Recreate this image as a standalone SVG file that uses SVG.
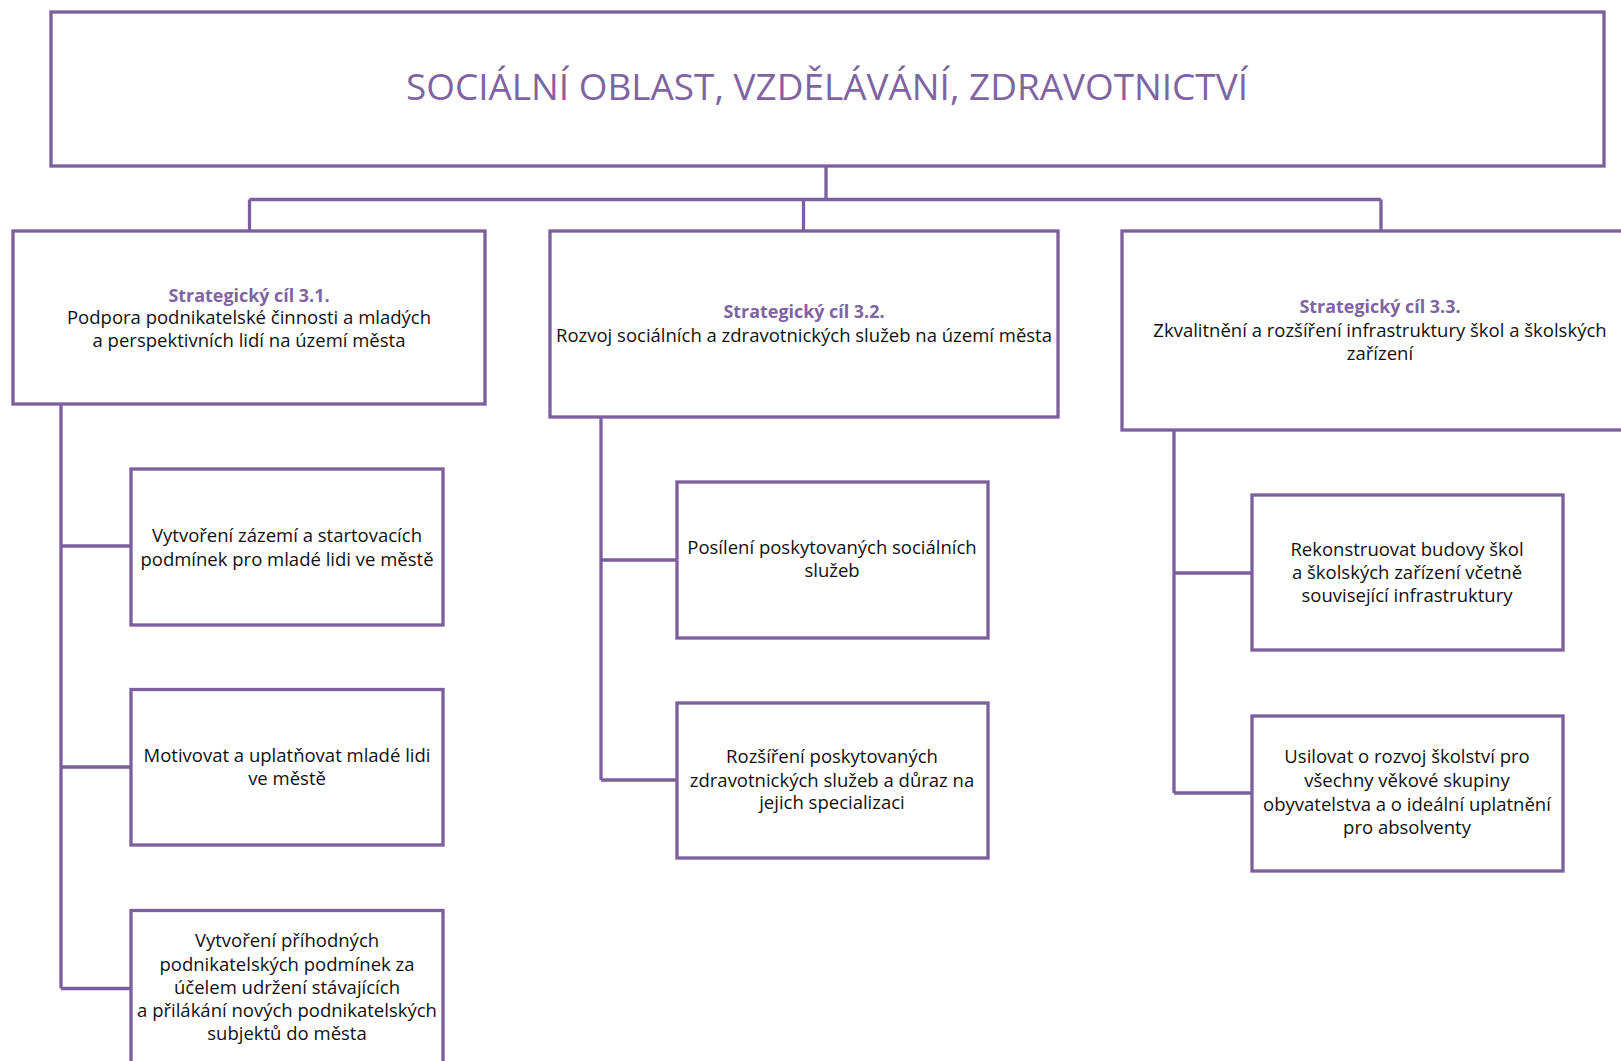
<svg xmlns="http://www.w3.org/2000/svg" width="1621" height="1061" viewBox="0 0 1621 1061">
<style>
.box{fill:#fff;stroke:#7B5F9E;stroke-width:3.3}
.con{fill:none;stroke:#7B5F9E;stroke-width:3.3}
.t{font-family:"Open Sans","Liberation Sans",sans-serif;font-size:18.5px;fill:#111;text-anchor:middle}
.h{font-family:"Open Sans","Liberation Sans",sans-serif;font-size:17.9px;font-weight:bold;fill:#8064A2;text-anchor:middle}
.title{font-family:"Open Sans","Liberation Sans",sans-serif;font-size:36.9px;fill:#8064A2;text-anchor:middle}
</style>
<rect width="1621" height="1061" fill="#fff"/>
<g id="connectors">
<path class="con" d="M826 166V199.5M249.5 199.5H1381M249.5 199.5V231M803.5 199.5V231M1381 199.5V231"/>
<path class="con" d="M61 404V988.5M61 546H131M61 767H131M61 988.5H131"/>
<path class="con" d="M601 417V780M601 560H677M601 780H677"/>
<path class="con" d="M1174 430V793M1174 573H1252M1174 793H1252"/>
</g>
<g id="root">
<rect class="box" x="51" y="12" width="1553" height="154"/>
<text class="title" x="827" y="100">SOCIÁLNÍ OBLAST, VZDĚLÁVÁNÍ, ZDRAVOTNICTVÍ</text>
</g>
<g id="goal31">
<rect class="box" x="13" y="231" width="472" height="173"/>
<text class="h" x="249" y="301.5">Strategický cíl 3.1.</text>
<text class="t" x="249" y="323.5">Podpora podnikatelské činnosti a mladých</text>
<text class="t" x="249" y="346.5">a perspektivních lidí na území města</text>
</g>
<g id="goal32">
<rect class="box" x="550" y="231" width="508" height="186"/>
<text class="h" x="804" y="318">Strategický cíl 3.2.</text>
<text class="t" x="804" y="342">Rozvoj sociálních a zdravotnických služeb na území města</text>
</g>
<g id="goal33">
<rect class="box" x="1122" y="231" width="520" height="199"/>
<text class="h" x="1380" y="313.3">Strategický cíl 3.3.</text>
<text class="t" x="1380" y="336.7">Zkvalitnění a rozšíření infrastruktury škol a školských</text>
<text class="t" x="1380" y="360">zařízení</text>
</g>
<g id="m311">
<rect class="box" x="131" y="469" width="312" height="156"/>
<text class="t" x="287" y="541.8">Vytvoření zázemí a startovacích</text>
<text class="t" x="287" y="566">podmínek pro mladé lidi ve městě</text>
</g>
<g id="m312">
<rect class="box" x="131" y="689.5" width="312" height="155.5"/>
<text class="t" x="287" y="761.6">Motivovat a uplatňovat mladé lidi</text>
<text class="t" x="287" y="784.6">ve městě</text>
</g>
<g id="m313">
<rect class="box" x="131" y="910.5" width="312" height="200"/>
<text class="t" x="287" y="947">Vytvoření příhodných</text>
<text class="t" x="287" y="970.7">podnikatelských podmínek za</text>
<text class="t" x="287" y="993.7">účelem udržení stávajících</text>
<text class="t" x="287" y="1016.6">a přilákání nových podnikatelských</text>
<text class="t" x="287" y="1040">subjektů do města</text>
</g>
<g id="m321">
<rect class="box" x="677" y="482" width="311" height="156"/>
<text class="t" x="832" y="554">Posílení poskytovaných sociálních</text>
<text class="t" x="832" y="577.3">služeb</text>
</g>
<g id="m322">
<rect class="box" x="677" y="703" width="311" height="155"/>
<text class="t" x="832" y="762.7">Rozšíření poskytovaných</text>
<text class="t" x="832" y="786.7">zdravotnických služeb a důraz na</text>
<text class="t" x="832" y="809.3">jejich specializaci</text>
</g>
<g id="m331">
<rect class="box" x="1252" y="495" width="311" height="155"/>
<text class="t" x="1407" y="555.7">Rekonstruovat budovy škol</text>
<text class="t" x="1407" y="579">a školských zařízení včetně</text>
<text class="t" x="1407" y="602.3">související infrastruktury</text>
</g>
<g id="m332">
<rect class="box" x="1252" y="716" width="311" height="155"/>
<text class="t" x="1407" y="763.3">Usilovat o rozvoj školství pro</text>
<text class="t" x="1407" y="787.3">všechny věkové skupiny</text>
<text class="t" x="1407" y="810.7">obyvatelstva a o ideální uplatnění</text>
<text class="t" x="1407" y="834.3">pro absolventy</text>
</g>
</svg>
